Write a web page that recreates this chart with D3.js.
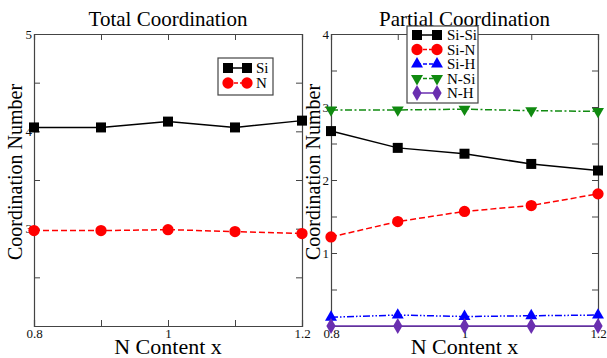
<!DOCTYPE html>
<html>
<head>
<meta charset="utf-8">
<script src="https://cdn.jsdelivr.net/npm/d3@7"></script>
<style>
  body { margin: 0; background: #fff; }
  svg { display: block; }
  svg text { font-family: "Liberation Serif", "Times New Roman", "DejaVu Serif", serif; }
</style>
</head>
<body>
<div id="chart"></div>
<script>
// N content (x axis)
const nContent = [0.8, 0.9, 1.0, 1.1, 1.2];

// Total coordination
const totalSi = [4.04, 4.04, 4.10, 4.04, 4.11];
const totalN = [2.98, 2.98, 2.99, 2.97, 2.95];

// Partial coordination
const siSi = [2.67, 2.44, 2.36, 2.22, 2.13];
const siN = [1.22, 1.43, 1.57, 1.65, 1.81];
const siH = [0.12, 0.15, 0.13, 0.14, 0.15];
const nSi = [2.96, 2.96, 2.97, 2.95, 2.94];
const nH = [0.0, 0.0, 0.0, 0.0, 0.0];

// tick labels
const xTickLabels = [0.8, 1, 1.2];
const totalYLabels = [5, 4, 3];
const partialYLabels = [4, 3, 2, 1];

const serif = '"Liberation Serif", "Times New Roman", "DejaVu Serif", serif';
const width = 607, height = 358;
const svg = d3.select("#chart").append("svg")
    .attr("width", width)
    .attr("height", height)
    .style("font-family", serif);

const styles = {
    "Si": { color: "#000000", dash: null, symbol: "square" },
    "N": { color: "#ff0000", dash: "6,3", symbol: "circle" },
    "Si-Si": { color: "#000000", dash: null, symbol: "square" },
    "Si-N": { color: "#ff0000", dash: "6,3", symbol: "circle" },
    "Si-H": { color: "#0000ff", dash: "7,2,1.5,2,1.5,2", symbol: "triangle" },
    "N-Si": { color: "#108a10", dash: "7,2.5,2,2.5", symbol: "triangleDown" },
    "N-H": { color: "#6a2fb0", dash: null, symbol: "diamond" }
};

function marker(sel, name) {
    const st = styles[name];
    let gen;
    if (st.symbol === "square") gen = d3.symbol(d3.symbolSquare, 100);
    else if (st.symbol === "circle") gen = d3.symbol(d3.symbolCircle, 100);
    else if (st.symbol === "diamond") gen = d3.symbol(d3.symbolDiamond, 75);
    else gen = d3.symbol(d3.symbolTriangle, 62);
    sel.append("path")
        .attr("d", gen)
        .attr("fill", st.color)
        .attr("transform", st.symbol === "triangleDown" ? "rotate(180)" : null);
}

function drawPanel(opt) {
    const x = d3.scaleLinear().domain([0.8, 1.2]).range([opt.left, opt.right]);
    const y = d3.scaleLinear().domain(opt.yDomain).range([opt.bottom, opt.top]);
    const g = svg.append("g");

    const xTicks = d3.range(0.8, 1.2001, 0.1);
    const yTicks = d3.range(opt.yDomain[0], opt.yDomain[1] + 0.001, 0.5);
    const fmtX = d => xTickLabels.some(v => Math.abs(v - d) < 1e-6) ? String(+d.toFixed(1)) : "";
    const fmtY = d => opt.yLabels.includes(d) ? d : "";

    // axes with inward ticks on all sides
    g.append("g").attr("transform", `translate(0,${opt.bottom})`)
        .call(d3.axisBottom(x).tickValues(xTicks).tickSize(-6).tickPadding(3).tickFormat(fmtX));
    g.append("g").attr("transform", `translate(0,${opt.top})`)
        .call(d3.axisTop(x).tickValues(xTicks).tickSize(-6).tickFormat(""));
    g.append("g").attr("transform", `translate(${opt.left},0)`)
        .call(d3.axisLeft(y).tickValues(yTicks).tickSize(-6).tickPadding(2).tickFormat(fmtY));
    g.append("g").attr("transform", `translate(${opt.right},0)`)
        .call(d3.axisRight(y).tickValues(yTicks).tickSize(-6).tickFormat(""));
    g.selectAll(".domain").attr("stroke", "#444").attr("stroke-width", 1.2);
    g.selectAll(".tick line").attr("stroke", "#444");
    g.selectAll("g").attr("font-family", null).style("font-family", serif);
    g.selectAll(".tick text").attr("font-size", 13).attr("fill", "#111");

    // titles
    g.append("text")
        .attr("x", (opt.left + opt.right) / 2).attr("y", 26)
        .attr("text-anchor", "middle").attr("font-size", 21)
        .text(opt.title);
    g.append("text")
        .attr("x", (opt.left + opt.right) / 2).attr("y", 354)
        .attr("text-anchor", "middle").attr("font-size", 22)
        .text("N Content x");
    g.append("text")
        .attr("transform", `translate(${opt.yTitleX},${(opt.top + opt.bottom) / 2 - 8}) rotate(-90)`)
        .attr("text-anchor", "middle").attr("font-size", 20)
        .text("Coordination Number");

    // series
    const line = d3.line().x((d, i) => x(nContent[i])).y(d => y(d));
    opt.series.forEach(s => {
        const st = styles[s.name];
        g.append("path")
            .datum(s.values)
            .attr("d", line)
            .attr("fill", "none")
            .attr("stroke", st.color)
            .attr("stroke-width", 1.5)
            .attr("stroke-dasharray", st.dash);
        g.selectAll(null)
            .data(s.values)
            .join("g")
            .attr("transform", (d, i) => `translate(${x(nContent[i])},${y(d)})`)
            .each(function () { marker(d3.select(this), s.name); });
    });

    // legend
    const lg = opt.legend;
    g.append("rect")
        .attr("x", lg.x).attr("y", lg.y)
        .attr("width", lg.w).attr("height", lg.h)
        .attr("fill", "#fff").attr("stroke", "#444").attr("stroke-width", 1.2);
    opt.series.forEach((s, i) => {
        const st = styles[s.name];
        const ry = lg.y + lg.row0 + i * lg.step;
        g.append("line")
            .attr("x1", lg.x + lg.m1).attr("x2", lg.x + lg.m2)
            .attr("y1", ry).attr("y2", ry)
            .attr("stroke", st.color).attr("stroke-width", 1.5)
            .attr("stroke-dasharray", st.dash ? "4,2" : null);
        [lg.m1, lg.m2].forEach(m => {
            const mg = g.append("g").attr("transform", `translate(${lg.x + m},${ry})`);
            marker(mg, s.name);
        });
        g.append("text")
            .attr("x", lg.x + lg.tx).attr("y", ry + 5)
            .attr("font-size", 15)
            .text(s.name);
    });
}

drawPanel({
    left: 34, right: 302, top: 34, bottom: 326,
    yDomain: [2, 5], yLabels: totalYLabels, yTitleX: 22,
    title: "Total Coordination",
    series: [{ name: "Si", values: totalSi }, { name: "N", values: totalN }],
    legend: { x: 218, y: 58, w: 55, h: 37, row0: 10, step: 15, m1: 10, m2: 29, tx: 38 }
});

drawPanel({
    left: 331, right: 598, top: 34, bottom: 326,
    yDomain: [0, 4], yLabels: partialYLabels, yTitleX: 320,
    title: "Partial Coordination",
    series: [
        { name: "Si-Si", values: siSi },
        { name: "Si-N", values: siN },
        { name: "Si-H", values: siH },
        { name: "N-Si", values: nSi },
        { name: "N-H", values: nH }
    ],
    legend: { x: 407, y: 26, w: 71, h: 77, row0: 9, step: 14.5, m1: 10, m2: 30, tx: 40 }
});
</script>
</body>
</html>
